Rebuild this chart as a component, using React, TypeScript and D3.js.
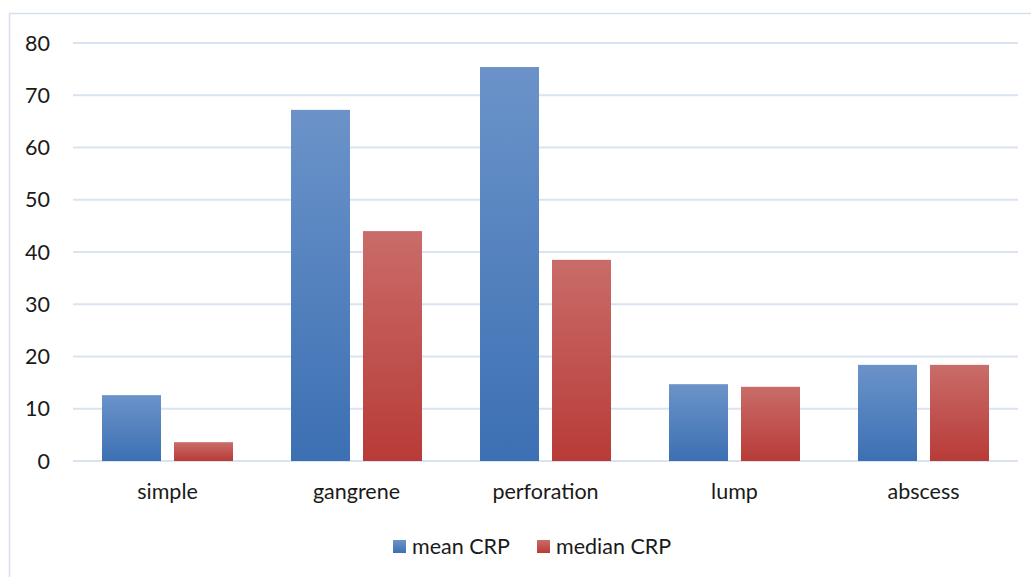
import React from "react";
import * as d3 from "d3";

const categories = ["simple", "gangrene", "perforation", "lump", "abscess"];
const meanCRP = [12.6, 67.2, 75.4, 14.7, 18.4];
const medianCRP = [3.6, 44.0, 38.5, 14.2, 18.4];
const yTicks = [0, 10, 20, 30, 40, 50, 60, 70, 80];
const seriesNames = ["mean CRP", "median CRP"];

const W = 1031;
const H = 577;
const FONT = "Lato, 'Open Sans', sans-serif";
const FS = 21.5;

export default function App() {
  const left = 73;
  const right = 1018;
  const y = d3.scaleLinear().domain([0, 80]).range([461, 43]);
  const x0 = d3.scaleBand<string>().domain(categories).range([left, right]).paddingInner(0).paddingOuter(0);
  const groupW = 131;
  const barW = 59;
  const series = [meanCRP, medianCRP];
  const fills = ["url(#gBlue)", "url(#gRed)"];

  return (
    <svg width={W} height={H} style={{ position: "absolute", left: 0, top: 0 }}>
      <defs>
        <linearGradient id="gBlue" x1="0" y1="0" x2="0" y2="1">
          <stop offset="0%" stopColor="#6b93c9" />
          <stop offset="100%" stopColor="#3c70b3" />
        </linearGradient>
        <linearGradient id="gRed" x1="0" y1="0" x2="0" y2="1">
          <stop offset="0%" stopColor="#c96c69" />
          <stop offset="100%" stopColor="#b83b37" />
        </linearGradient>
      </defs>
      <rect x={0} y={0} width={W} height={H} fill="#ffffff" />
      <rect x={9.5} y={13.5} width={W + 10} height={H + 10} fill="none" stroke="#d5e0ef" strokeWidth={1.5} />
      {yTicks.map((t) => (
        <g key={t}>
          <line x1={left} x2={right} y1={y(t)} y2={y(t)} stroke="#d9e3f1" strokeWidth={2} />
          <text x={50} y={y(t)} dy="0.36em" textAnchor="end" fontFamily={FONT} fontSize={FS} fill="#1a1a1a">
            {t}
          </text>
        </g>
      ))}
      {categories.map((c, i) => {
        const cx = (x0(c) as number) + x0.bandwidth() / 2;
        const gx = cx - groupW / 2;
        return (
          <g key={c}>
            {series.map((s, k) => {
              const bx = k === 0 ? gx : gx + groupW - barW;
              return (
                <rect key={k} x={bx} y={y(s[i])} width={barW} height={y(0) - y(s[i])} fill={fills[k]} />
              );
            })}
            <text x={cx} y={499} textAnchor="middle" fontFamily={FONT} fontSize={FS} fill="#1a1a1a">
              {c}
            </text>
          </g>
        );
      })}
      {seriesNames.map((n, k) => {
        const lx = k === 0 ? 393 : 537;
        return (
          <g key={n}>
            <rect x={lx} y={540} width={13} height={13} fill={fills[k]} />
            <text x={lx + 19} y={554} fontFamily={FONT} fontSize={FS} fill="#1a1a1a">
              {n}
            </text>
          </g>
        );
      })}
    </svg>
  );
}
